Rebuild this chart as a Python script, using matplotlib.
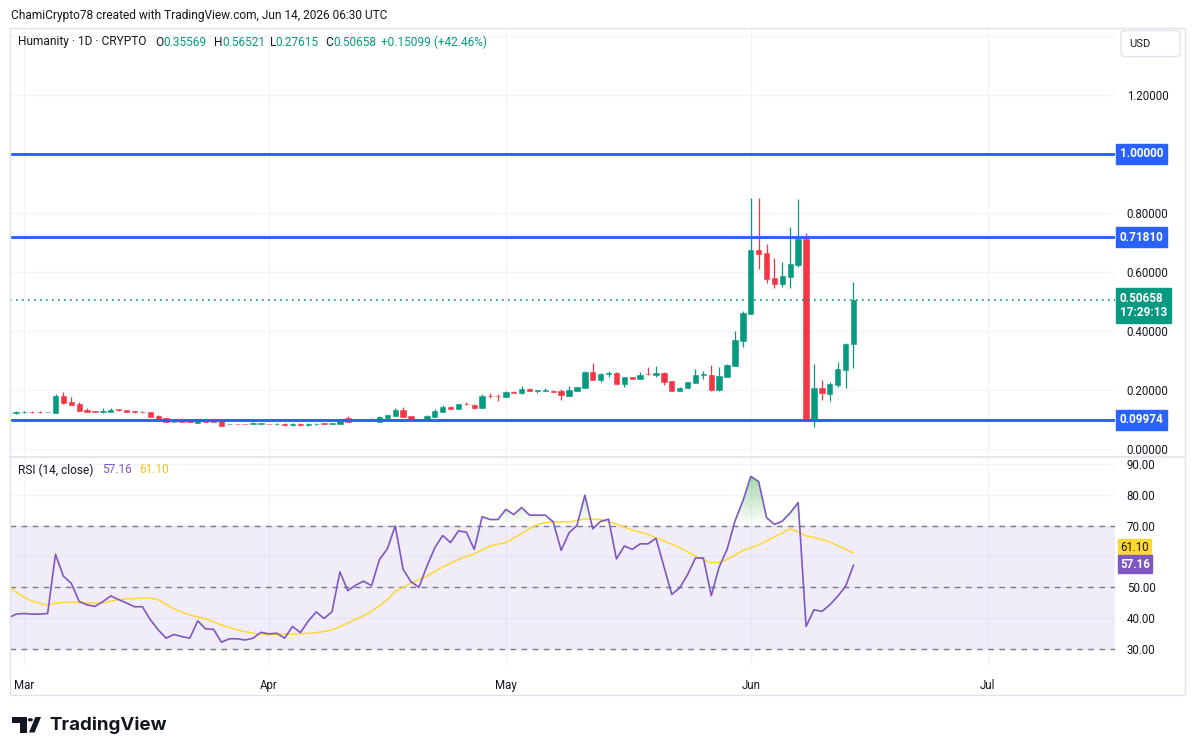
import numpy as np
import pandas as pd
import matplotlib
matplotlib.use("Agg")
import matplotlib.pyplot as plt
from matplotlib.patches import Rectangle, FancyBboxPatch, Polygon, Circle
from matplotlib.path import Path
import matplotlib.transforms as mtransforms

# ---------------- data ----------------
start_date = "2026-02-27"
opens = [0.124,
         0.122, 0.124, 0.126, 0.126, 0.124, 0.123, 0.180, 0.159, 0.154, 0.132,
         0.128, 0.124, 0.126, 0.134, 0.131, 0.128, 0.126, 0.125, 0.113, 0.104,
         0.092, 0.094, 0.094, 0.089, 0.100, 0.094, 0.094, 0.085, 0.086, 0.086,
         0.085, 0.085, 0.086, 0.085, 0.086, 0.080, 0.085, 0.080, 0.085, 0.087,
         0.086, 0.086, 0.104, 0.097, 0.098, 0.101, 0.093, 0.104, 0.113, 0.132,
         0.112, 0.102, 0.100, 0.108, 0.126, 0.143, 0.137, 0.153, 0.149, 0.140,
         0.180, 0.180, 0.177, 0.193, 0.190, 0.203, 0.198, 0.198, 0.198, 0.197,
         0.181, 0.198, 0.208, 0.261, 0.235, 0.253, 0.259, 0.221, 0.243, 0.238,
         0.254, 0.250, 0.259, 0.229, 0.197, 0.208, 0.225, 0.252, 0.252, 0.200,
         0.245, 0.282, 0.367, 0.459, 0.675, 0.664, 0.580, 0.560, 0.584, 0.625,
         0.711, 0.096, 0.207, 0.188, 0.217, 0.268, 0.35569]
highs = [0.126,
         0.130, 0.128, 0.128, 0.130, 0.126, 0.186, 0.193, 0.175, 0.160, 0.138,
         0.130, 0.140, 0.140, 0.136, 0.133, 0.130, 0.128, 0.126, 0.116, 0.105,
         0.097, 0.096, 0.097, 0.101, 0.102, 0.097, 0.095, 0.086, 0.086, 0.086,
         0.091, 0.089, 0.086, 0.089, 0.087, 0.088, 0.087, 0.087, 0.088, 0.087,
         0.087, 0.102, 0.111, 0.101, 0.102, 0.106, 0.111, 0.116, 0.138, 0.141,
         0.113, 0.103, 0.114, 0.137, 0.148, 0.145, 0.153, 0.160, 0.151, 0.186,
         0.190, 0.186, 0.195, 0.195, 0.215, 0.206, 0.201, 0.206, 0.201, 0.205,
         0.213, 0.211, 0.265, 0.292, 0.256, 0.265, 0.260, 0.245, 0.245, 0.262,
         0.278, 0.282, 0.260, 0.230, 0.210, 0.227, 0.270, 0.266, 0.286, 0.278,
         0.287, 0.400, 0.468, 0.852, 0.852, 0.695, 0.647, 0.634, 0.753, 0.847,
         0.732, 0.288, 0.234, 0.227, 0.295, 0.359, 0.56521]
lows = [0.123,
        0.118, 0.121, 0.123, 0.123, 0.124, 0.122, 0.154, 0.149, 0.128, 0.125,
        0.125, 0.123, 0.125, 0.130, 0.125, 0.123, 0.123, 0.109, 0.099, 0.092,
        0.091, 0.092, 0.092, 0.088, 0.092, 0.092, 0.078, 0.085, 0.085, 0.084,
        0.084, 0.085, 0.084, 0.083, 0.079, 0.079, 0.079, 0.079, 0.083, 0.086,
        0.086, 0.085, 0.092, 0.095, 0.097, 0.096, 0.092, 0.103, 0.112, 0.108,
        0.102, 0.100, 0.099, 0.107, 0.125, 0.134, 0.136, 0.150, 0.134, 0.138,
        0.172, 0.163, 0.176, 0.189, 0.187, 0.196, 0.190, 0.197, 0.192, 0.167,
        0.180, 0.197, 0.207, 0.234, 0.228, 0.245, 0.220, 0.211, 0.236, 0.237,
        0.252, 0.243, 0.218, 0.197, 0.196, 0.207, 0.224, 0.239, 0.198, 0.198,
        0.244, 0.280, 0.347, 0.458, 0.609, 0.564, 0.547, 0.550, 0.547, 0.618,
        0.095, 0.076, 0.166, 0.164, 0.211, 0.208, 0.27615]
closes = [0.125,
          0.125, 0.125, 0.124, 0.124, 0.125, 0.180, 0.157, 0.150, 0.130, 0.126,
          0.126, 0.128, 0.133, 0.131, 0.126, 0.124, 0.124, 0.110, 0.100, 0.093,
          0.093, 0.093, 0.093, 0.100, 0.093, 0.093, 0.079, 0.086, 0.085, 0.085,
          0.087, 0.087, 0.085, 0.086, 0.080, 0.086, 0.080, 0.085, 0.086, 0.086,
          0.087, 0.101, 0.093, 0.100, 0.101, 0.097, 0.107, 0.114, 0.132, 0.110,
          0.103, 0.101, 0.112, 0.129, 0.142, 0.136, 0.152, 0.151, 0.140, 0.180,
          0.178, 0.178, 0.193, 0.190, 0.202, 0.198, 0.200, 0.200, 0.193, 0.182,
          0.200, 0.210, 0.262, 0.235, 0.254, 0.258, 0.221, 0.243, 0.238, 0.252,
          0.253, 0.257, 0.227, 0.198, 0.208, 0.226, 0.252, 0.253, 0.199, 0.247,
          0.285, 0.369, 0.460, 0.675, 0.662, 0.577, 0.560, 0.585, 0.626, 0.712,
          0.096, 0.207, 0.189, 0.220, 0.271, 0.357, 0.50658]
rsi = [40.0,
       41.3, 41.5, 41.3, 41.3, 41.5, 60.7, 53.6, 51.3, 45.4, 44.3,
       43.8, 45.4, 47.2, 46.0, 44.9, 43.7, 43.7, 39.5, 36.2, 33.5,
       34.7, 34.0, 33.5, 39.1, 36.5, 36.4, 32.2, 33.3, 33.3, 32.9,
       33.5, 35.4, 34.9, 35.1, 33.5, 37.3, 35.3, 39.1, 42.0, 39.9,
       42.1, 55.0, 48.9, 50.7, 52.0, 50.5, 59.0, 62.5, 69.9, 55.8,
       51.8, 50.0, 56.8, 62.8, 66.8, 64.5, 68.3, 67.9, 62.3, 72.9,
       72.0, 72.0, 75.3, 73.6, 75.9, 73.4, 73.4, 73.4, 71.2, 62.0,
       67.7, 70.1, 79.9, 69.0, 71.4, 72.1, 59.2, 63.4, 62.3, 64.1,
       64.1, 65.9, 56.8, 47.7, 49.8, 54.1, 59.5, 59.5, 47.3, 56.6,
       62.3, 71.5, 78.0, 86.0, 84.3, 72.6, 70.4, 71.5, 74.2, 77.5,
       37.3, 42.7, 42.2, 44.3, 47.1, 50.3, 57.16]
rsi_ma = [50.5,
          48.5, 46.8, 45.6, 44.8, 44.2, 44.9, 45.1, 45.2, 45.0, 44.9,
          44.9, 44.9, 45.5, 46.0, 46.2, 46.4, 46.5, 46.5, 46.0, 44.5,
          43.0, 42.0, 41.0, 40.4, 39.8, 38.8, 37.8, 37.0, 36.2, 35.6,
          35.1, 34.8, 34.6, 34.7, 34.8, 34.8, 34.9, 35.1, 35.3, 35.7,
          36.2, 37.3, 38.4, 39.6, 40.8, 42.2, 44.0, 46.0, 48.7, 50.0,
          51.4, 52.5, 53.6, 55.1, 56.6, 57.8, 59.0, 60.0, 60.9, 62.2,
          63.4, 64.0, 64.5, 66.0, 67.5, 69.0, 70.4, 71.0, 71.2, 71.2,
          71.2, 71.7, 72.2, 72.1, 72.0, 71.3, 70.5, 69.5, 68.6, 67.9,
          67.2, 66.0, 65.1, 64.0, 62.9, 61.5, 60.2, 58.9, 58.0, 58.1,
          59.0, 60.5, 62.0, 62.8, 63.8, 65.0, 66.4, 67.6, 69.0, 68.0,
          66.7, 66.2, 65.5, 64.7, 63.5, 62.4, 61.10]
level_lines = [1.0, 0.7181, 0.09974]
level_labels = ["1.00000", "0.71810", "0.09974"]
last_price = 0.50658
countdown = "17:29:13"
price_ticks = [0.0, 0.2, 0.4, 0.6, 0.8, 1.0, 1.2, 1.4]
price_tick_labels = ["0.00000", "0.20000", "0.40000", "0.60000", "0.80000", "", "1.20000", ""]
rsi_ticks = [30, 40, 50, 60, 70, 80, 90]
rsi_tick_labels = ["30.00", "40.00", "50.00", "", "70.00", "80.00", "90.00"]
month_labels = ["Mar", "Apr", "May", "Jun", "Jul"]
month_starts = ["2026-03-01", "2026-04-01", "2026-05-01", "2026-06-01", "2026-07-01"]

# ---------------- style ----------------
W, H = 1195, 755
FONT = "Roboto"
plt.rcParams["font.family"] = [FONT, "DejaVu Sans"]
GREEN = "#089981"
RED = "#f23645"
BLUE = "#2962ff"
TXT = "#131722"
GRID = "#f0f3fa"
BORDER = "#e0e3eb"
PURPLE = "#7e57c2"
YELLOW = "#fdd835"

def fx(x):
    return x / W

def fy(y):
    return 1 - y / H

fig = plt.figure(figsize=(W / 100, H / 100), dpi=100)
fig.patch.set_facecolor("white")

ax = fig.add_axes([fx(10), fy(455), (1115 - 10) / W, (455 - 29) / H])
ax2 = fig.add_axes([fx(10), fy(665), (1115 - 10) / W, (665 - 458) / H])

dates = pd.date_range(start_date, periods=len(closes), freq="D")
base = pd.Timestamp("2026-02-28")
xs = np.array([(d - base).days for d in dates], dtype=float)
mx = [(pd.Timestamp(m) - base).days for m in month_starts]

o = np.array(opens); h = np.array(highs); l = np.array(lows); c = np.array(closes)
up = c >= o
cols = np.where(up, GREEN, RED)

xl = (-0.76, 139.1)
for a in (ax, ax2):
    a.set_xlim(*xl)
    for s in a.spines.values():
        s.set_visible(False)
    a.set_facecolor("none")

# ---- main pane ----
ax.set_ylim(-0.0203, 1.4237)
ax.set_yticks(price_ticks)
ax.set_yticklabels(price_tick_labels)
ax.yaxis.tick_right()
ax.tick_params(axis="y", length=0, pad=8.5, labelsize=8.3, labelcolor=TXT)
ax.tick_params(axis="x", length=0, labelbottom=False)
ax.set_xticks(mx)
ax.grid(True, color=GRID, lw=1.0, zorder=0)
ax.set_axisbelow(True)

ax.vlines(xs, l, h, colors=cols, lw=0.9, zorder=3)
body_h = np.maximum(np.abs(c - o), 0.0012)
ax.bar(xs, body_h, bottom=np.minimum(o, c), width=0.68, color=cols,
       edgecolor=cols, linewidth=0.4, zorder=4)

for lv in level_lines:
    ax.axhline(lv, color=BLUE, lw=2.1, zorder=5)
ax.axhline(last_price, color=GREEN, lw=1.2, ls=(0, (1, 2.6)), zorder=5)

bt = mtransforms.blended_transform_factory(ax.transAxes, ax.transData)
lab_x = (1120 - 10) / (1115 - 10)
for lv, lb in zip(level_lines, level_labels):
    ax.text(lab_x, lv, lb, transform=bt, ha="left", va="center", fontsize=8.5,
            color="white", fontweight="bold", clip_on=False, zorder=10,
            bbox=dict(boxstyle="square,pad=0.3", fc=BLUE, ec=BLUE))
ax.annotate(f"{last_price:.5f}\n{countdown}", xy=(lab_x, last_price), xycoords=bt,
            xytext=(0, 8), textcoords="offset pixels", ha="left", va="top",
            fontsize=8.5, color="white", fontweight="bold", linespacing=1.15,
            annotation_clip=False, zorder=10,
            bbox=dict(boxstyle="square,pad=0.3", fc=GREEN, ec=GREEN))

# ---- RSI pane ----
ax2.set_ylim(24.8, 91.95)
ax2.set_yticks(rsi_ticks)
ax2.set_yticklabels(rsi_tick_labels)
ax2.yaxis.tick_right()
ax2.tick_params(axis="y", length=0, pad=8.5, labelsize=8.3, labelcolor=TXT)
ax2.set_xticks(mx)
ax2.set_xticklabels(month_labels)
ax2.tick_params(axis="x", length=0, pad=10, labelsize=8.3, labelcolor=TXT)
ax2.grid(True, color=GRID, lw=1.0, zorder=0)
ax2.set_axisbelow(True)

ax2.axhspan(30, 70, color=PURPLE, alpha=0.1, lw=0, zorder=1)
for lv in (30, 50, 70):
    ax2.axhline(lv, color="#787b86", lw=1.0, ls=(0, (4, 4)), zorder=2)

rsi_a = np.array(rsi)
poly = ax2.fill_between(xs, 70, rsi_a, where=rsi_a > 70, interpolate=True,
                        color="none", lw=0)
grad = np.zeros((100, 2, 4))
alphas = np.linspace(0.55, 0.0, 100)
grad[:, :, 0] = 76 / 255; grad[:, :, 1] = 175 / 255; grad[:, :, 2] = 80 / 255
grad[:, :, 3] = alphas[:, None]
im = ax2.imshow(grad, extent=[xl[0], xl[1], 70, 88], aspect="auto", origin="upper",
                zorder=2, interpolation="bilinear")
paths = poly.get_paths()
if paths:
    cp = Path.make_compound_path(*paths)
    im.set_clip_path(cp, transform=ax2.transData)
ax2.set_xlim(*xl)
ax2.set_ylim(24.8, 91.95)

ax2.plot(xs, rsi_ma, color=YELLOW, lw=1.1, zorder=4)
ax2.plot(xs, rsi, color=PURPLE, lw=1.2, zorder=5)

bt2 = mtransforms.blended_transform_factory(ax2.transAxes, ax2.transData)
ax2.text(lab_x, 63.0, f"{rsi_ma[-1]:.2f}", transform=bt2, ha="left", va="center",
         fontsize=8.3, color=TXT, clip_on=False, zorder=10,
         bbox=dict(boxstyle="square,pad=0.18", fc=YELLOW, ec=YELLOW))
ax2.text(lab_x, 57.55, f"{rsi[-1]:.2f}", transform=bt2, ha="left", va="center",
         fontsize=8.3, color="white", fontweight="bold", clip_on=False, zorder=10,
         bbox=dict(boxstyle="square,pad=0.18", fc=PURPLE, ec=PURPLE))

# ---- frame and texts ----
fig.patches.append(Rectangle((fx(10), fy(695)), (1185 - 10) / W, (695 - 28) / H,
                             transform=fig.transFigure, fill=False, ec=BORDER, lw=1.0))
fig.lines.append(plt.Line2D([fx(10), fx(1185)], [fy(457), fy(457)],
                            transform=fig.transFigure, color=BORDER, lw=1.2))
fig.patches.append(FancyBboxPatch((fx(1121), fy(56.5)), 59 / W, 26 / H,
                                  boxstyle="round,pad=0,rounding_size=0.004",
                                  transform=fig.transFigure, fc="white", ec=BORDER, lw=1.0))
fig.text(fx(1140), fy(44), "USD", ha="center", va="center", fontsize=8, color=TXT)

fig.text(fx(11), fy(15), "ChamiCrypto78 created with TradingView.com, Jun 14, 2026 06:30 UTC",
         ha="left", va="center", fontsize=8.6, color=TXT)

hdr = [("Humanity · 1D · CRYPTO", 18.4, TXT), ("O", 155, TXT), (f"{opens[-1]:.5f}", 163, GREEN),
       ("H", 214, TXT), (f"{highs[-1]:.5f}", 222, GREEN), ("L", 270, TXT),
       (f"{lows[-1]:.5f}", 275.5, GREEN), ("C", 325, TXT), (f"{closes[-1]:.5f}", 333, GREEN),
       ("+0.15099 (+42.46%)", 381, GREEN)]
for s, xp, col in hdr:
    fig.text(fx(xp), fy(42), s, ha="left", va="center", fontsize=8.6, color=col)

fig.text(fx(18.4), fy(470), "RSI (14, close)", ha="left", va="center", fontsize=8.6, color=TXT)
fig.text(fx(102.6), fy(470), f"{rsi[-1]:.2f}", ha="left", va="center", fontsize=8.6, color=PURPLE)
fig.text(fx(139.7), fy(470), f"{rsi_ma[-1]:.2f}", ha="left", va="center", fontsize=8.6, color="#f5c518")

# TradingView logo
def P(x, y):
    return (fx(x), fy(y))
logo = "#131722"
fig.patches.append(Polygon([P(12, 717), P(26.7, 717), P(26.7, 732.5), P(20.3, 732.5),
                            P(20.3, 722.5), P(12, 722.5)], closed=True,
                           transform=fig.transFigure, fc=logo, ec="none"))
fig.patches.append(Circle(P(30.3, 719.8), 2.6 / W, transform=fig.transFigure, fc=logo, ec="none"))
fig.patches.append(Polygon([P(29.0, 732.5), P(34.6, 732.5), P(41.0, 717), P(35.4, 717)],
                           closed=True, transform=fig.transFigure, fc=logo, ec="none"))
fig.text(fx(49), fy(725), "TradingView", ha="left", va="center", fontsize=13.5,
         fontweight="bold", color=logo, family=["Inter", "DejaVu Sans"])

fig.savefig("out.png", dpi=100, facecolor="white")
